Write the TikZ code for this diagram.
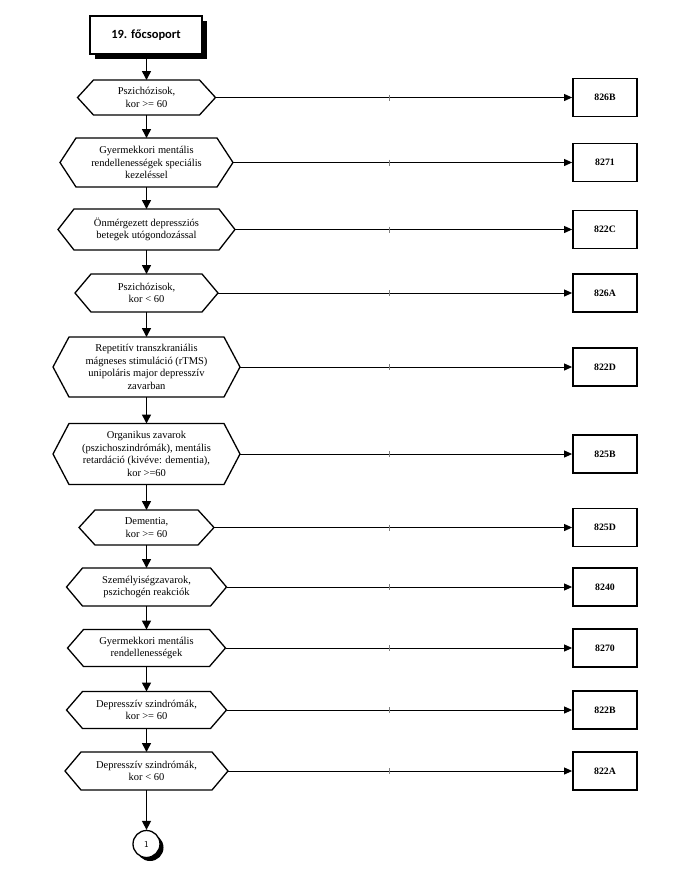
\documentclass[tikz,border=0pt]{standalone}
\usepackage{fontspec}
\setmainfont{Liberation Serif}
\newfontfamily\titlefont{Carlito}
\usetikzlibrary{arrows.meta,shadows}
\tikzset{
  hextext/.style={inner sep=0pt, outer sep=0pt, align=center,
    font=\fontsize{10.5}{12.6}\selectfont},
  hexline/.style={line width=1.3pt, line join=miter},
  codebox/.style={draw, line width=1.8pt, minimum width=64pt, minimum height=38pt,
    inner sep=0pt, font=\fontsize{9.8}{11}\selectfont\bfseries},
  titlebox/.style={draw, line width=1.5pt, fill=white, minimum width=112pt, minimum height=38pt,
    inner sep=0pt, font=\titlefont\fontsize{12.5}{14}\selectfont\bfseries,
    drop shadow={shadow xshift=5pt, shadow yshift=-5pt, fill=black, opacity=1}},
  endcircle/.style={draw, circle, line width=1.3pt, fill=white, minimum size=27pt, inner sep=0pt,
    font=\sffamily\fontsize{9}{10}\selectfont,
    drop shadow={shadow xshift=3.5pt, shadow yshift=-3.5pt, fill=black, opacity=1}},
  vflow/.style={line width=1.5pt, -{Triangle[length=9pt,width=9pt]}},
  hflow/.style={line width=1pt, -{Triangle[length=8pt,width=7pt]}},
  tickmark/.style={line width=0.9pt, gray},
}
\newcommand{\hexnode}[6]{%
  \node[hextext, minimum width=#4pt, minimum height=#5pt] (#1) at (146.5,#3) {#6};
  \draw[hexline] (#1.west) -- ([xshift=16pt]#1.north west) -- ([xshift=-16pt]#1.north east)
    -- (#1.east) -- ([xshift=-16pt]#1.south east) -- ([xshift=16pt]#1.south west) -- cycle;
}
\begin{document}
\begin{tikzpicture}[x=1pt,y=-1pt]
\useasboundingbox (0,0) rectangle (694,892);
\coordinate (tx) at (389,0);

\node[titlebox] (t) at (146,35) {19. főcsoport};

\hexnode{h1}{}{97.5}{138}{35}{Pszichózisok,\\kor >= 60}
\hexnode{h2}{}{162.5}{173}{49}{Gyermekkori mentális\\rendellenességek speciális\\kezeléssel}
\hexnode{h3}{}{229.5}{177}{41}{Önmérgezett depressziós\\betegek utógondozással}
\hexnode{h4}{}{293}{143}{38}{Pszichózisok,\\kor < 60}
\hexnode{h5}{}{367}{187}{60}{Repetitív transzkraniális\\mágneses stimuláció (rTMS)\\unipoláris major depresszív\\zavarban}
\hexnode{h6}{}{454}{187}{61}{Organikus zavarok\\(pszichoszindrómák), mentális\\retardáció (kivéve: dementia),\\kor >=60}
\hexnode{h7}{}{527.5}{135}{35}{Dementia,\\kor >= 60}
\hexnode{h8}{}{587}{160}{38}{Személyiségzavarok,\\pszichogén reakciók}
\hexnode{h9}{}{648}{158}{37}{Gyermekkori mentális\\rendellenességek}
\hexnode{h10}{}{710}{160}{37}{Depresszív szindrómák,\\kor >= 60}
\hexnode{h11}{}{771}{163}{38}{Depresszív szindrómák,\\kor < 60}

\node[endcircle] (c) at (146.5,844) {1};

\node[codebox] (b1) at (605,97.5) {826B};
\node[codebox] (b2) at (605,162.5) {8271};
\node[codebox] (b3) at (605,229.5) {822C};
\node[codebox] (b4) at (605,293) {826A};
\node[codebox] (b5) at (605,367) {822D};
\node[codebox] (b6) at (605,454) {825B};
\node[codebox] (b7) at (605,527.5) {825D};
\node[codebox] (b8) at (605,587) {8240};
\node[codebox] (b9) at (605,648) {8270};
\node[codebox] (b10) at (605,710) {822B};
\node[codebox] (b11) at (605,771) {822A};

\draw[vflow] (t.south -| h1.north) -- (h1.north);
\foreach \a/\b in {h1/h2,h2/h3,h3/h4,h4/h5,h5/h6,h6/h7,h7/h8,h8/h9,h9/h10,h10/h11,h11/c}{
  \draw[vflow] (\a.south) -- (\b.north);
}
\foreach \i in {1,...,11}{
  \draw[hflow] (h\i.east) -- (b\i.west);
  \draw[tickmark] ([yshift=3pt]h\i.east -| tx) -- ([yshift=-3pt]h\i.east -| tx);
}
\end{tikzpicture}
\end{document}
